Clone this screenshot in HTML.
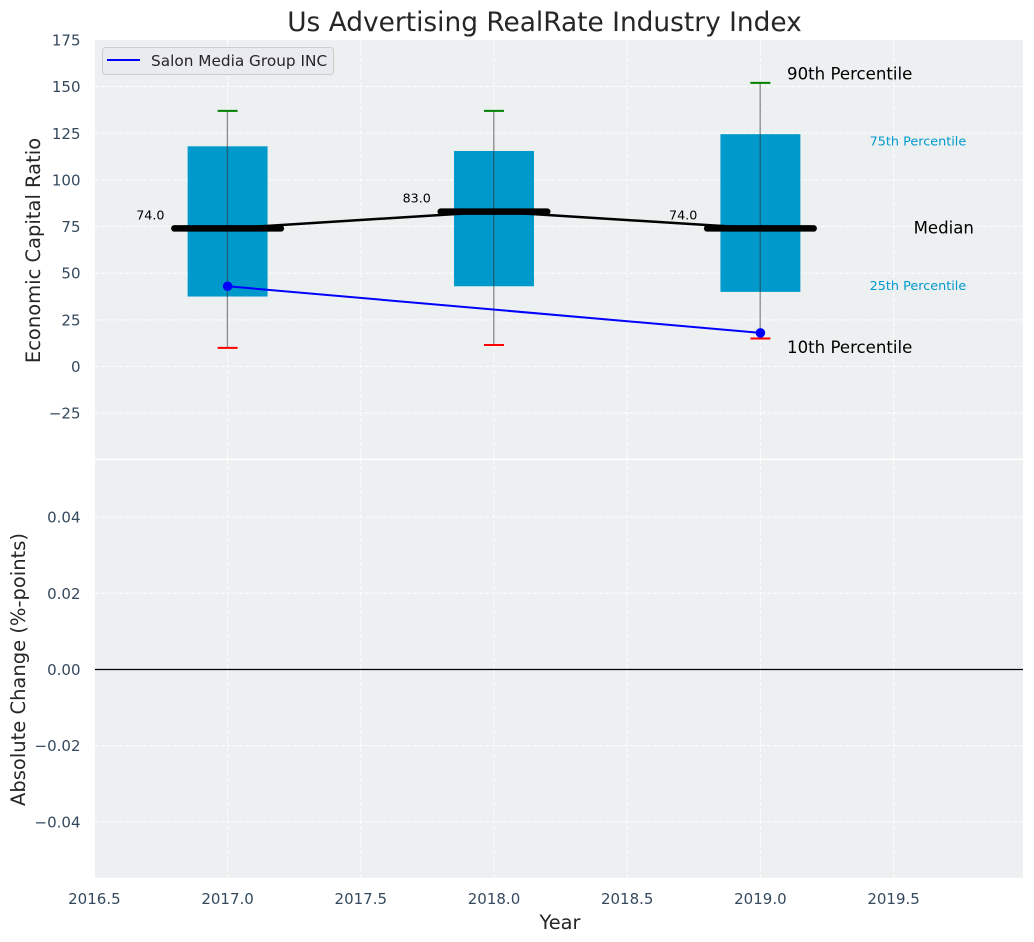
<!DOCTYPE html>
<html>
<head>
<meta charset="utf-8">
<style>
html,body{margin:0;padding:0;background:#fff;}
svg{display:block;font-family:"DejaVu Sans","Liberation Sans",sans-serif;}
</style>
</head>
<body>
<svg id="chart" xmlns="http://www.w3.org/2000/svg" width="1034" height="942" viewBox="0 0 1034 942"></svg>
<script>
const years = [2017, 2018, 2019];
const p90 = [137, 137, 152];
const q3 = [118, 115.5, 124.5];
const medians = [74, 83, 74];
const q1 = [37.5, 43, 40];
const p10 = [10, 11.5, 15];
const companyYears = [2017, 2019];
const companyValues = [43, 18];
const xTicks = [2016.5, 2017, 2017.5, 2018, 2018.5, 2019, 2019.5];
const topTicks = [175, 150, 125, 100, 75, 50, 25, 0, -25];
const bottomTicks = [0.04, 0.02, 0, -0.02, -0.04];

const fx = v => 227.6 + (v - 2017) * 266.4;
const fyTop = v => 366.5 - v * 1.866;
const fyBottom = v => 669.5 - v * 3812;
const PANEL_L = 95, PANEL_R = 1023, TOP_T = 40, TOP_B = 458.5, BOT_T = 460, BOT_B = 878;
const svg = document.getElementById('chart');
const NS = 'http://www.w3.org/2000/svg';

function make(tag, attrs, parent) {
  const el = document.createElementNS(NS, tag);
  for (const k in attrs) el.setAttribute(k, attrs[k]);
  (parent || svg).appendChild(el);
  return el;
}
function label(str, x, y, size, fill, anchor, name) {
  const el = make('text', {x: x, y: y, 'font-size': size, fill: fill, 'text-anchor': anchor || 'start'});
  el.textContent = str;
  
  
  return el;
}
const fmtMinus = s => String(s).replace('-', '\u2212');

const topBg = make('rect', {x: PANEL_L, y: TOP_T, width: PANEL_R - PANEL_L, height: TOP_B - TOP_T, fill: '#ecf0f1'});


const botBg = make('rect', {x: PANEL_L, y: BOT_T, width: PANEL_R - PANEL_L, height: BOT_B - BOT_T, fill: '#ecf0f1'});



xTicks.forEach(t => {
  const gx = fx(t);
  if (gx > PANEL_L) {
    [[TOP_T, TOP_B], [BOT_T, BOT_B]].forEach(r => {
      const g = make('line', {x1: gx, x2: gx, y1: r[0], y2: r[1], stroke: '#fff', 'stroke-width': 1, 'stroke-dasharray': '4 2', opacity: 0.9});
      
      
    });
  }
  label(t.toFixed(1), gx, 904, 15, '#34495e', 'middle', 'x-tick-label');
});
topTicks.forEach(t => {
  const gy = fyTop(t);
  if (t < 175) {
    const g = make('line', {x1: PANEL_L, x2: PANEL_R, y1: gy, y2: gy, stroke: '#fff', 'stroke-width': 1, 'stroke-dasharray': '4 2', opacity: 0.9});
    
    
  }
  label(fmtMinus(t), 80.5, gy + 5.5, 15, '#34495e', 'end', 'top-y-tick-label');
});
bottomTicks.forEach(t => {
  const gy = fyBottom(t);
  const g = make('line', {x1: PANEL_L, x2: PANEL_R, y1: gy, y2: gy, stroke: '#fff', 'stroke-width': 1, 'stroke-dasharray': '4 2', opacity: 0.9});
  
  
  label(fmtMinus(t.toFixed(2)), 80.5, gy + 5.5, 15, '#34495e', 'end', 'bottom-y-tick-label');
});
const zeroLine = make('line', {x1: PANEL_L, x2: PANEL_R, y1: fyBottom(0), y2: fyBottom(0), stroke: '#000', 'stroke-width': 1.2});



years.forEach((y, i) => {
  const bar = make('rect', {x: fx(y - 0.15), y: fyTop(q3[i]), width: fx(y + 0.15) - fx(y - 0.15), height: fyTop(q1[i]) - fyTop(q3[i]), fill: '#0099cc'});
  
  
});

const medianPath = make('polyline', {points: years.map((y, i) => fx(y) + ',' + fyTop(medians[i])).join(' '), fill: 'none', stroke: '#000', 'stroke-width': 2.5});



years.forEach((y, i) => {
  const w = make('line', {x1: fx(y) - 0.2, x2: fx(y) - 0.2, y1: fyTop(p90[i]), y2: fyTop(p10[i]), stroke: '#333333', 'stroke-width': 1.3, opacity: 0.55});
  
  
  const capTop = make('line', {x1: fx(y - 0.0375), x2: fx(y + 0.0375), y1: fyTop(p90[i]), y2: fyTop(p90[i]), stroke: 'green', 'stroke-width': 2});
  
  
  const capBot = make('line', {x1: fx(y - 0.0375), x2: fx(y + 0.0375), y1: fyTop(p10[i]), y2: fyTop(p10[i]), stroke: 'red', 'stroke-width': 2});
  
  
  const m = make('line', {x1: fx(y - 0.2), x2: fx(y + 0.2), y1: fyTop(medians[i]), y2: fyTop(medians[i]), stroke: '#000', 'stroke-width': 6.5, 'stroke-linecap': 'round'});
  
  
  label(medians[i].toFixed(1), fx(y - 0.29), fyTop(medians[i]) - 9, 12.7, '#000', 'middle', 'median-value-' + y);
});

const companyLine = make('polyline', {points: companyYears.map((y, i) => fx(y) + ',' + fyTop(companyValues[i])).join(' '), fill: 'none', stroke: '#0000ff', 'stroke-width': 2});


companyYears.forEach((y, i) => {
  const c = make('circle', {cx: fx(y), cy: fyTop(companyValues[i]), r: 4.8, fill: '#0000ff'});
  
  
});

const last = years.length - 1;
label('90th Percentile', fx(2019.1), fyTop(p90[last] + 3) + 2, 16.6, '#000', 'start', 'p90-annotation');
label('75th Percentile', fx(2019.41), fyTop(q3[last] - 4) + 3.8, 12.8, '#0099cc', 'start', 'p75-annotation');
label('Median', fx(2019.575), fyTop(medians[last]) + 5.2, 16.6, '#000', 'start', 'median-annotation');
label('25th Percentile', fx(2019.41), fyTop(q1[last] + 2.7) + 3, 12.8, '#0099cc', 'start', 'p25-annotation');
label('10th Percentile', fx(2019.1), fyTop(p10[last] - 5) + 5.2, 16.6, '#000', 'start', 'p10-annotation');

const legendBox = make('rect', {x: 102.5, y: 47.5, width: 231, height: 27, rx: 3, fill: '#eaeaf2', stroke: '#cccccc', 'stroke-width': 1, opacity: 0.95});


const legendLine = make('line', {x1: 107, x2: 140, y1: 60, y2: 60, stroke: '#0000ff', 'stroke-width': 2});


label('Salon Media Group INC', 151, 66, 15.3, '#262626', 'start', 'legend-label');

label('Us Advertising RealRate Industry Index', 544.5, 31, 26.4, '#262626', 'middle', 'chart-title');
label('Year', 560, 929, 19.4, '#262626', 'middle', 'x-axis-title');
const yt1 = label('Economic Capital Ratio', 0, 0, 19.5, '#262626', 'middle', 'top-y-axis-title');
yt1.setAttribute('transform', 'translate(40,250.5) rotate(-90)');
const yt2 = label('Absolute Change (%-points)', 0, 0, 19.5, '#262626', 'middle', 'bottom-y-axis-title');
yt2.setAttribute('transform', 'translate(25,669.5) rotate(-90)');
</script>
</body>
</html>
